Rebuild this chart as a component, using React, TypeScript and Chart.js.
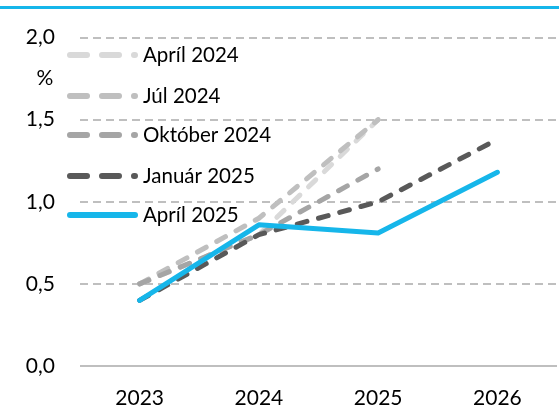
import { useEffect, useRef } from "react";
import { Chart, registerables } from "chart.js";

Chart.register(...registerables);

const years = ["2023", "2024", "2025", "2026"];
const seriesNames = ["Apríl 2024", "Júl 2024", "Október 2024", "Január 2025", "Apríl 2025"];
const apr2024 = [0.5, 0.8, 1.5, null];
const jul2024 = [0.5, 0.9, 1.5, null];
const okt2024 = [0.5, 0.8, 1.2, null];
const jan2025 = [0.4, 0.8, 1.0, 1.38];
const apr2025 = [0.4, 0.86, 0.81, 1.18];
const yMin = 0;
const yMax = 2;
const yStep = 0.5;
const unitLabel = "%";

const colors = ["#d9d9d9", "#bfbfbf", "#a5a5a5", "#595959", "#16b6ea"];
const FONT = "Lato, 'Open Sans', sans-serif";

const legendPlugin = {
  id: "customLegend",
  afterDraw(chart: any) {
    const ctx = chart.ctx as CanvasRenderingContext2D;
    ctx.save();
    // top rule
    ctx.fillStyle = "#16b6ea";
    ctx.fillRect(0, 6, chart.width, 3);
    // unit label
    ctx.fillStyle = "#000";
    ctx.font = `21px ${FONT}`;
    ctx.textAlign = "center";
    ctx.textBaseline = "middle";
    ctx.fillText(unitLabel, 45, 78);
    // legend
    const rows = [55, 96, 135, 176, 215];
    chart.data.datasets.forEach((ds: any, i: number) => {
      const y = rows[i];
      ctx.strokeStyle = ds.borderColor;
      ctx.lineWidth = 6;
      ctx.lineCap = "round";
      ctx.beginPath();
      ctx.setLineDash(ds.borderDash && ds.borderDash.length ? [17, 15] : []);
      ctx.moveTo(70, y);
      ctx.lineTo(135, y);
      ctx.stroke();
      ctx.setLineDash([]);
      ctx.fillStyle = "#000";
      ctx.font = `20.5px ${FONT}`;
      ctx.textAlign = "left";
      ctx.textBaseline = "middle";
      ctx.fillText(ds.label, 143, y);
    });
    ctx.restore();
  },
};

const gridPlugin = {
  id: "dashGrid",
  beforeDatasetsDraw(chart: any) {
    const y = chart.scales.y;
    const ctx = chart.ctx;
    const { left, right } = chart.chartArea;
    ctx.save();
    y.ticks.forEach((t: any) => {
      const py = Math.round(y.getPixelForValue(t.value));
      ctx.strokeStyle = "#bfbfbf";
      ctx.lineWidth = 2;
      ctx.setLineDash(t.value === 0 ? [] : [8, 5]);
      ctx.beginPath();
      ctx.moveTo(left, py);
      ctx.lineTo(right, py);
      ctx.stroke();
    });
    ctx.restore();
  },
};

export default function App() {
  const ref = useRef<HTMLCanvasElement | null>(null);
  useEffect(() => {
    document.body.style.margin = "0";
    const mk = (i: number, data: (number | null)[], dashed: boolean, order: number) => ({
      label: seriesNames[i],
      data,
      borderColor: colors[i],
      backgroundColor: colors[i],
      borderWidth: 5,
      borderDash: dashed ? [10, 12] : [],
      borderCapStyle: "round",
      borderJoinStyle: "round",
      pointRadius: 0,
      tension: 0,
      fill: false,
      order,
    });
    const chart = new Chart(ref.current!, {
      type: "line",
      data: {
        labels: years,
        datasets: [
          mk(0, apr2024, true, 5),
          mk(1, jul2024, true, 4),
          mk(2, okt2024, true, 3),
          mk(3, jan2025, true, 2),
          mk(4, apr2025, false, 1),
        ] as any,
      },
      options: {
        animation: false,
        responsive: false,
        maintainAspectRatio: false,
        layout: { padding: { top: 30, right: 2, left: 0, bottom: 0 } },
        plugins: { legend: { display: false }, tooltip: { enabled: false } },
        scales: {
          x: {
            offset: true,
            afterFit: (s: any) => {
              s.height = 48;
            },
            grid: { display: false, drawTicks: false },
            border: { display: false },
            ticks: { color: "#000", font: { family: FONT, size: 21 }, padding: 20 },
          },
          y: {
            min: yMin,
            max: yMax,
            afterFit: (s: any) => {
              s.width = 80;
            },
            ticks: {
              stepSize: yStep,
              color: "#000",
              font: { family: FONT, size: 21 },
              padding: 25,
              callback: (v: any) => Number(v).toFixed(1).replace(".", ","),
            },
            border: { display: false },
            grid: { display: false, drawTicks: false },
          },
        },
      },
      plugins: [gridPlugin, legendPlugin] as any,
    });
    return () => chart.destroy();
  }, []);
  return (
    <div style={{ width: 559, height: 414 }}>
      <canvas ref={ref} width={559} height={414} style={{ display: "block" }} />
    </div>
  );
}
